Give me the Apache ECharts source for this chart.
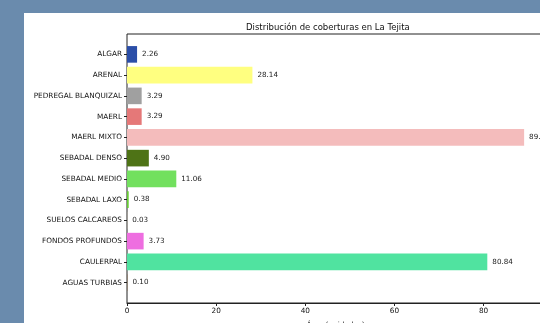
<!DOCTYPE html>
<html><head><meta charset="utf-8">
<script src="https://cdn.jsdelivr.net/npm/echarts@6/dist/echarts.min.js"></script>
<style>
html,body{margin:0;padding:0;background:#6a8bad;width:540px;height:323px;overflow:hidden;}
#paper{position:absolute;left:24px;top:13px;right:0;bottom:0;background:#fff;}
#chart{position:absolute;left:0;top:0;width:540px;height:323px;}
</style></head>
<body><div id="paper"></div><div id="chart"></div>
<script>
const categories = ['ALGAR','ARENAL','PEDREGAL BLANQUIZAL','MAERL','MAERL MIXTO','SEBADAL DENSO','SEBADAL MEDIO','SEBADAL LAXO','SUELOS CALCAREOS','FONDOS PROFUNDOS','CAULERPAL','AGUAS TURBIAS'];
const values = [2.26, 28.14, 3.29, 3.29, 89.10, 4.90, 11.06, 0.38, 0.03, 3.73, 80.84, 0.10];
const colors = ['#2b4ea8','#ffff80','#a0a0a0','#e57878','#f4bcbc','#4e7316','#72e05e','#66cc33','#f5deb3','#ee6ee0','#50e3a0','#8b7355'];
const xTicks = [0, 20, 40, 60, 80];
const xMax = 93.56;
const title = 'Distribución de coberturas en La Tejita';
const xName = 'Área (unidades)';

const font = 'DejaVu Sans';
const chart = echarts.init(document.getElementById('chart'), null, {renderer:'canvas'});
chart.setOption({
  backgroundColor: 'transparent',
  animation: false,
  title: {text: title, left: 241, top: 18, textStyle:{fontFamily:font, fontSize:8.5, fontWeight:'normal', color:'#111'}},
  grid: [
    {left:127, top:34, right:-4, bottom:20, outerBoundsMode:'none', containLabel:false, show:true, borderColor:'#222', borderWidth:1, backgroundColor:'transparent'},
    {left:127, top:44, right:-4, bottom:30, outerBoundsMode:'none', containLabel:false}
  ],
  xAxis: [
    {type:'value', gridIndex:0, min:0, max:xMax, interval:20,
     axisLine:{show:true, lineStyle:{color:'#222', width:1}},
     axisTick:{show:true, length:3, lineStyle:{color:'#222'}},
     splitLine:{show:false},
     axisLabel:{fontFamily:font, fontSize:7.3, color:'#111', margin:5, showMaxLabel:false,
       formatter: v => xTicks.includes(v) ? String(v) : ''},
     name: xName, nameLocation:'middle', nameGap:19,
     nameTextStyle:{fontFamily:font, fontSize:7.3, color:'#111'}},
    {type:'value', gridIndex:1, min:0, max:xMax, show:false}
  ],
  yAxis: [
    {type:'value', gridIndex:0, min:0, max:1, show:false},
    {type:'category', gridIndex:1, data:categories, inverse:true,
     axisLine:{show:false},
     axisTick:{show:true, alignWithLabel:true, length:3, lineStyle:{color:'#222'}},
     axisLabel:{fontFamily:font, fontSize:7.3, color:'#111', margin:5}}
  ],
  series: [{
    type:'bar', xAxisIndex:1, yAxisIndex:1,
    barWidth:16.6,
    data: values.map((v,i)=>({value:v, itemStyle:{color:colors[i]}})),
    label:{show:true, position:'right', distance:5, fontFamily:font, fontSize:7.2, color:'#222',
      formatter: p => p.value.toFixed(2)}
  }]
});
</script></body></html>
